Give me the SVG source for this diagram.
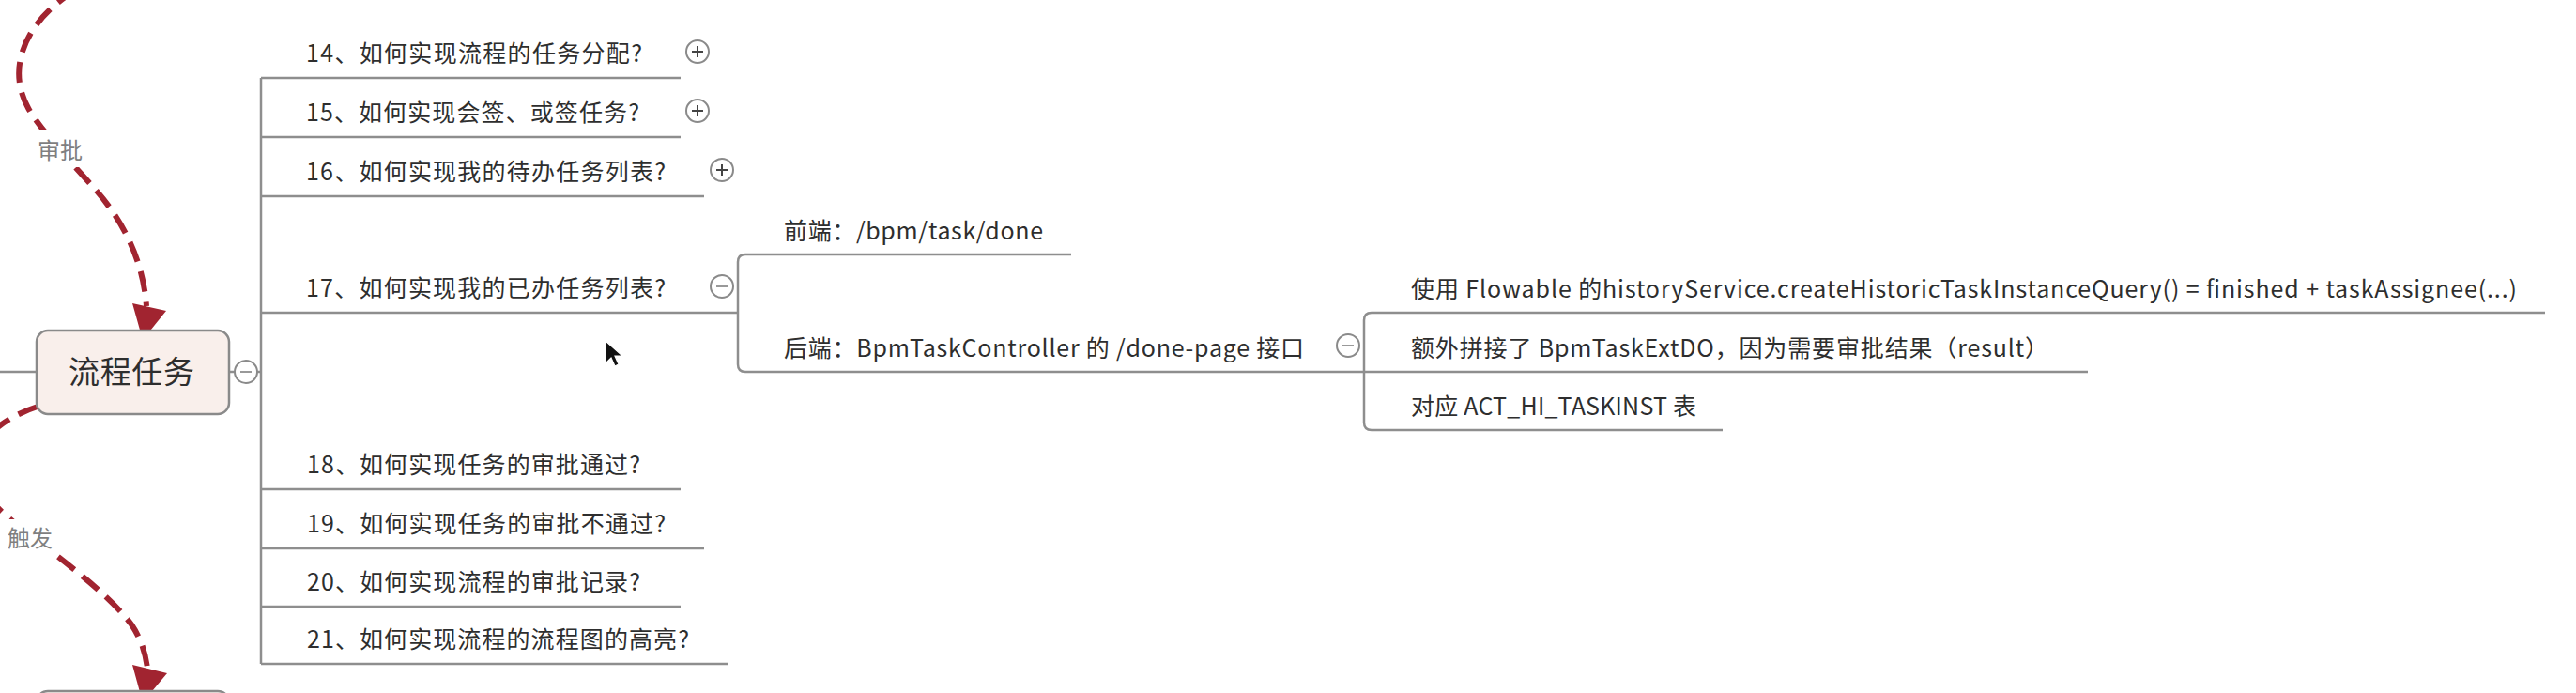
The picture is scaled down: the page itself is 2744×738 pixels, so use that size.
<svg xmlns="http://www.w3.org/2000/svg" width="2744" height="738" viewBox="0 0 2744 738">
  <defs>
    <style>
      .ln { fill: none; stroke: #8e8e8e; stroke-width: 2.5; }
      .t { font-family: "Noto Sans CJK SC", "Noto Sans", sans-serif; font-size: 25px; fill: #2e2e2e; }
      .lbl { font-family: "Noto Sans CJK SC", sans-serif; font-size: 24px; fill: #7f7f7f; text-anchor: middle; }
      .rel { fill: none; stroke: #a12430; stroke-width: 6; stroke-dasharray: 22 11; }
      .ah { fill: #a12430; }
      .btn { fill: #ffffff; stroke: #8a8a8a; stroke-width: 2; }
      .pm { stroke: #444; stroke-width: 2; }
      .mm { stroke: #999; stroke-width: 2; }
      .node { fill: #f9efeb; stroke: #8a8a8a; stroke-width: 2.5; }
    </style>
  </defs>
  <rect width="2744" height="738" fill="#ffffff"/>

  <g id="connectors">
    <line class="ln" x1="0" y1="396" x2="39" y2="396"/>
    <line class="ln" x1="244" y1="396" x2="278" y2="396"/>
    <line class="ln" x1="278" y1="83" x2="278" y2="707"/>
    <line class="ln" x1="278" y1="83" x2="725" y2="83"/>
    <line class="ln" x1="278" y1="146" x2="725" y2="146"/>
    <line class="ln" x1="278" y1="209" x2="750" y2="209"/>
    <line class="ln" x1="278" y1="333" x2="786" y2="333"/>
    <line class="ln" x1="278" y1="521" x2="725" y2="521"/>
    <line class="ln" x1="278" y1="584" x2="750" y2="584"/>
    <line class="ln" x1="278" y1="646" x2="725" y2="646"/>
    <line class="ln" x1="278" y1="707" x2="776" y2="707"/>
    <path class="ln" d="M1141,271 H794 Q786,271 786,279 V388 Q786,396 794,396 H1453"/>
    <path class="ln" d="M2711,333 H1461 Q1453,333 1453,341 V450 Q1453,458 1461,458 H1835"/>
    <line class="ln" x1="1453" y1="396" x2="2224" y2="396"/>

    <path class="rel" d="M80,-10 C30,20 5,70 30,115 C42,137 75,172 100,200 C125,228 152,270 156,326"/>
    <polygon class="ah" points="141,323 177,331 152,362"/>
    <path class="rel" d="M40,433 C15,441 -20,460 -25,490 C-28,515 -10,535 10,552 C40,578 110,625 140,665 C150,680 155,695 157,712"/>
    <polygon class="ah" points="141,708 178,717 152,748"/>
    <rect x="34" y="138" width="60" height="40" fill="#ffffff"/>
    <text class="lbl" x="64" y="169">审批</text>
    <rect x="2" y="553" width="60" height="40" fill="#ffffff"/>
    <text class="lbl" x="32" y="582">触发</text>
  </g>

  <g id="node-main">
    <rect class="node" x="39" y="352" width="205" height="89" rx="12"/>
    <text class="t" x="140" y="408" text-anchor="middle" style="font-size:33px" textLength="134">流程任务</text>
    <circle class="btn" cx="262" cy="396" r="12"/>
    <line class="mm" x1="256" y1="396" x2="268" y2="396"/>
  </g>

  <g id="node-below">
    <rect class="node" x="39" y="736" width="205" height="89" rx="12"/>
  </g>

  <g id="n14">
    <text class="t" x="326" y="66" textLength="358">14、如何实现流程的任务分配?</text>
    <circle class="btn" cx="743" cy="55" r="12"/>
    <line class="pm" x1="737" y1="55" x2="749" y2="55"/>
    <line class="pm" x1="743" y1="49" x2="743" y2="61"/>
  </g>
  <g id="n15">
    <text class="t" x="326" y="129" textLength="355">15、如何实现会签、或签任务?</text>
    <circle class="btn" cx="743" cy="118" r="12"/>
    <line class="pm" x1="737" y1="118" x2="749" y2="118"/>
    <line class="pm" x1="743" y1="112" x2="743" y2="124"/>
  </g>
  <g id="n16">
    <text class="t" x="326" y="192" textLength="383">16、如何实现我的待办任务列表?</text>
    <circle class="btn" cx="769" cy="181" r="12"/>
    <line class="pm" x1="763" y1="181" x2="775" y2="181"/>
    <line class="pm" x1="769" y1="175" x2="769" y2="187"/>
  </g>
  <g id="n17">
    <text class="t" x="326" y="316" textLength="383">17、如何实现我的已办任务列表?</text>
    <circle class="btn" cx="769" cy="305" r="12"/>
    <line class="mm" x1="763" y1="305" x2="775" y2="305"/>
  </g>
  <g id="n17-front">
    <text class="t" x="835" y="255" textLength="276">前端：/bpm/task/done</text>
  </g>
  <g id="n17-back">
    <text class="t" x="835" y="380" textLength="554">后端：BpmTaskController 的 /done-page 接口</text>
    <circle class="btn" cx="1436" cy="368" r="12"/>
    <line class="mm" x1="1430" y1="368" x2="1442" y2="368"/>
  </g>
  <g id="n17-back-1">
    <text class="t" x="1503" y="317" textLength="1178">使用 Flowable 的historyService.createHistoricTaskInstanceQuery() = finished + taskAssignee(...)</text>
  </g>
  <g id="n17-back-2">
    <text class="t" x="1503" y="380" textLength="679">额外拼接了 BpmTaskExtDO，因为需要审批结果（result）</text>
  </g>
  <g id="n17-back-3">
    <text class="t" x="1503" y="442" textLength="304">对应 ACT_HI_TASKINST 表</text>
  </g>
  <g id="n18">
    <text class="t" x="327" y="504" textLength="355">18、如何实现任务的审批通过?</text>
  </g>
  <g id="n19">
    <text class="t" x="327" y="567" textLength="382">19、如何实现任务的审批不通过?</text>
  </g>
  <g id="n20">
    <text class="t" x="327" y="629" textLength="355">20、如何实现流程的审批记录?</text>
  </g>
  <g id="n21">
    <text class="t" x="327" y="690" textLength="407">21、如何实现流程的流程图的高亮?</text>
  </g>

  <g id="cursor">
    <path d="M645,363 L645,387 L651,381 L655,390 L659,388 L655,379 L663,379 Z" fill="#111111" stroke="#ffffff" stroke-width="1.2"/>
  </g>
</svg>
